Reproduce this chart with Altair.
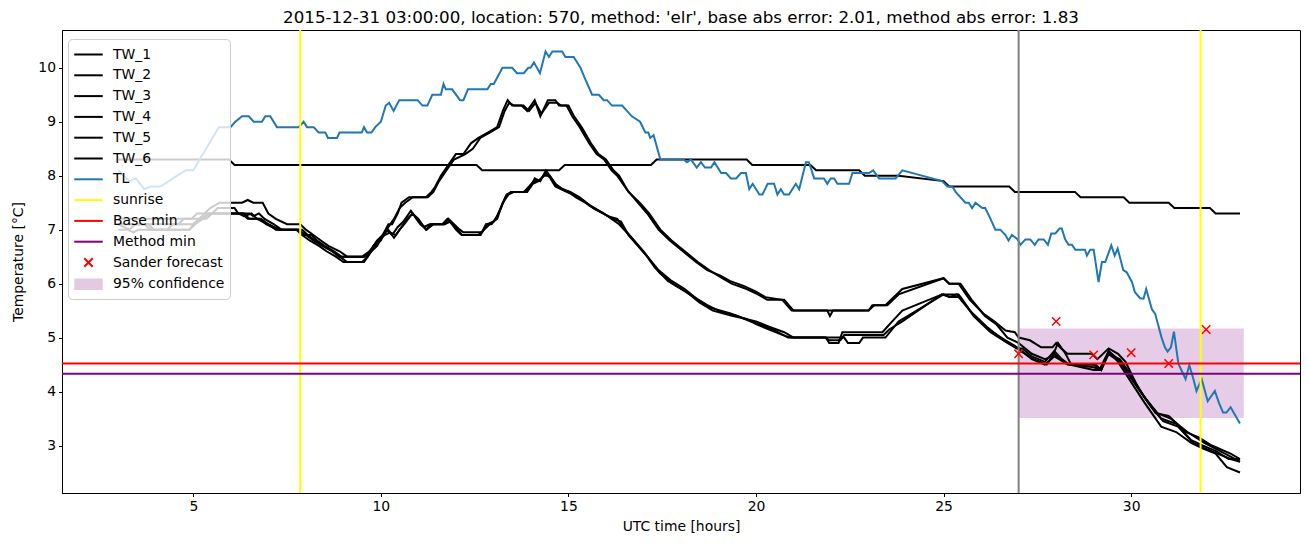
import altair as alt
import pandas as pd

TITLE = "2015-12-31 03:00:00, location: 570, method: 'elr', base abs error: 2.01, method abs error: 1.83"

TW1_X = [3.0, 3.3, 3.45, 4.6, 4.75, 5.15, 5.3, 5.45, 5.7, 6.3, 6.45, 6.6, 6.85, 7.0, 7.2, 7.5, 7.85, 8.0, 8.2, 8.4,
         8.6, 8.9, 9.1, 9.5, 9.7, 9.9, 10.05, 10.2, 10.3, 10.45, 10.55, 10.75, 11.2, 11.35, 11.45, 11.6, 11.8, 12.0,
         12.2, 12.4, 12.6, 12.85, 13.1, 13.25, 13.38, 13.5, 13.75, 13.9, 14.1, 14.25, 14.45, 14.65, 14.75, 14.95,
         15.1, 15.3, 15.55, 15.75, 15.95, 16.15, 16.3, 16.55, 16.85, 17.1, 17.4, 17.7, 18.05, 18.4, 18.7, 19.05,
         19.3, 19.7, 20.0, 20.25, 20.7, 20.95, 21.9, 21.97, 22.05, 23.0, 23.1, 23.45, 23.6, 23.9, 25.0, 25.15, 25.4,
         25.7, 26.05, 26.35, 26.65, 26.9, 27.0, 27.3, 27.6, 27.9, 28.0, 28.1, 28.3, 28.95, 29.1, 29.4, 29.65, 29.85,
         30.2, 30.65, 31.0, 31.45, 31.8, 32.15, 32.65, 32.9]
TW1_Y = [7.1, 7.0, 7.1, 7.1, 7.2, 7.2, 7.3, 7.4, 7.5, 7.5, 7.55, 7.5, 7.5, 7.3, 7.2, 7.1, 7.1, 7.0, 6.9, 6.8,
         6.7, 6.6, 6.5, 6.5, 6.6, 6.8, 6.9, 7.1, 7.1, 7.3, 7.5, 7.6, 7.6, 7.7, 7.8, 8.0, 8.2, 8.4,
         8.4, 8.6, 8.7, 8.8, 8.9, 9.2, 9.4, 9.3, 9.3, 9.2, 9.4, 9.1, 9.4, 9.4, 9.3, 9.3,
         9.1, 8.9, 8.6, 8.4, 8.3, 8.1, 8.0, 7.75, 7.5, 7.3, 7.0, 6.8, 6.6, 6.4, 6.25, 6.15,
         6.05, 5.95, 5.85, 5.75, 5.7, 5.5, 5.5, 5.4, 5.5, 5.5, 5.6, 5.6, 5.7, 5.9, 6.1, 6.0, 6.0,
         5.7, 5.45, 5.3, 5.13, 5.1, 5.0, 4.95, 4.82, 4.82, 4.9, 4.82, 4.7, 4.7, 4.6, 4.8, 4.7, 4.55,
         4.05, 3.6, 3.55, 3.25, 3.15, 3.0, 2.85, 2.75]

TW2_X = [3.0, 3.8, 3.95, 4.9, 5.05, 5.25, 5.45, 6.35, 6.5, 6.8, 7.0, 7.3, 7.8, 8.0, 8.2, 8.45, 8.7, 8.9, 9.1, 9.55,
         9.75, 9.95, 10.15, 10.35, 10.5, 10.65, 10.85, 11.25, 11.4, 11.55, 11.75, 11.95, 12.25, 12.45, 12.65, 12.9,
         13.15, 13.3, 13.42, 13.55, 13.8, 13.95, 14.12, 14.28, 14.48, 14.7, 14.8, 15.0, 15.15, 15.35, 15.6, 15.8,
         16.0, 16.2, 16.35, 16.6, 16.9, 17.15, 17.45, 17.75, 18.1, 18.45, 18.75, 19.1, 19.35, 19.75, 20.05, 20.3,
         20.75, 21.0, 23.0, 23.15, 23.5, 23.8, 25.0, 25.15, 25.45, 25.75, 26.1, 26.4, 26.7, 27.0, 27.35, 27.7, 27.9,
         28.05, 28.25, 28.4, 29.05, 29.2, 29.4, 29.7, 30.0, 30.35, 30.7, 31.05, 31.5, 31.95, 32.5, 32.9]
TW2_Y = [7.1, 7.1, 7.0, 7.0, 7.1, 7.2, 7.3, 7.3, 7.2, 7.2, 7.1, 7.0, 7.0, 6.9, 6.8, 6.7, 6.6, 6.5, 6.4, 6.4,
         6.6, 6.8, 7.0, 7.2, 7.4, 7.5, 7.6, 7.6, 7.7, 7.9, 8.1, 8.3, 8.4, 8.5, 8.7, 8.8,
         8.9, 9.2, 9.35, 9.3, 9.3, 9.2, 9.35, 9.15, 9.35, 9.35, 9.3, 9.3, 9.1, 8.9, 8.6, 8.4,
         8.3, 8.1, 8.0, 7.7, 7.5, 7.3, 7.0, 6.8, 6.6, 6.4, 6.25, 6.1, 6.0, 5.9, 5.8, 5.7,
         5.7, 5.5, 5.5, 5.6, 5.6, 5.8, 6.1, 6.0, 6.0, 5.7, 5.4, 5.25, 5.0, 4.9, 4.7, 4.6, 4.65,
         4.9, 4.7, 4.5, 4.5, 4.4, 4.7, 4.6, 4.3, 3.9, 3.6, 3.5, 3.25, 3.05, 2.85, 2.7]

TW3_X = [3.0, 4.95, 5.1, 5.5, 5.65, 6.1, 6.2, 6.5, 6.6, 6.75, 6.9, 7.15, 7.35, 7.8, 7.95, 8.15, 8.3, 8.5, 8.75, 8.95,
         9.6, 9.75, 9.9, 10.05, 10.2, 10.35, 10.5, 10.62, 10.84, 11.0, 11.2, 11.33, 11.64, 11.77, 11.9, 12.05, 12.17,
         12.66, 12.8, 12.95, 13.06, 13.2, 13.32, 13.46, 13.81, 13.95, 14.08, 14.21, 14.39, 14.52, 14.65, 14.95,
         15.12, 15.39, 15.66, 15.92, 16.19, 16.4, 16.6, 16.85, 17.1, 17.43, 17.78, 18.14, 18.49, 18.85, 19.38,
         19.73, 20.0, 20.35, 20.7, 20.93, 21.86, 21.95, 22.2, 22.3, 23.37, 23.5, 23.63, 23.9, 24.96, 25.4, 25.76,
         26.2, 26.65, 26.9, 27.05, 27.4, 27.75, 27.95, 28.1, 28.3, 29.0, 29.2, 29.4, 29.65, 30.0, 30.4, 30.8, 31.2,
         31.6, 31.9, 32.25, 32.6, 32.9]
TW3_Y = [7.2, 7.2, 7.3, 7.3, 7.4, 7.4, 7.3, 7.3, 7.25, 7.3, 7.2, 7.1, 7.0, 7.0, 6.9, 6.9, 6.8, 6.7, 6.6, 6.5,
         6.5, 6.6, 6.7, 6.9, 7.0, 6.85, 7.0, 7.1, 7.3, 7.2, 7.0, 7.1, 7.1, 7.2, 7.1, 7.0, 6.9,
         6.9, 7.1, 7.1, 7.2, 7.4, 7.6, 7.7, 7.7, 7.8, 7.9, 7.9, 8.05, 7.95, 7.8, 7.7,
         7.65, 7.55, 7.4, 7.3, 7.2, 7.15, 6.9, 6.7, 6.5, 6.2, 6.0, 5.85, 5.65, 5.5, 5.4,
         5.35, 5.25, 5.15, 5.05, 5.0, 5.0, 4.9, 4.9, 5.1, 5.1, 5.2, 5.3, 5.5, 5.8, 5.8, 5.45,
         5.15, 4.95, 4.85, 4.75, 4.6, 4.5, 4.7, 4.6, 4.5, 4.5, 4.4, 4.75, 4.6, 4.25, 3.85, 3.5, 3.4,
         3.1, 3.0, 2.9, 2.75, 2.75]

TW4_X = [3.0, 3.25, 3.4, 3.55, 4.3, 4.45, 5.0, 5.15, 5.35, 5.5, 6.3, 6.45, 6.75, 6.95, 7.25, 7.9, 8.05, 8.25, 8.45,
         8.7, 8.9, 9.55, 9.7, 9.85, 10.0, 10.15, 10.3, 10.45, 10.6, 10.8, 10.95, 11.15, 11.3, 11.7, 11.8, 11.95,
         12.1, 12.2, 12.7, 12.82, 13.0, 13.1, 13.22, 13.35, 13.5, 13.85, 14.0, 14.1, 14.25, 14.4, 14.55, 14.7,
         15.0, 15.2, 15.45, 15.7, 15.95, 16.15, 16.35, 16.55, 16.8, 17.05, 17.4, 17.75, 18.1, 18.45, 18.8, 19.3,
         19.7, 20.0, 20.35, 20.75, 21.0, 22.35, 22.45, 22.75, 22.85, 23.45, 23.8, 25.0, 25.15, 25.35, 25.45, 25.8,
         26.25, 26.7, 26.95, 27.1, 27.35, 27.7, 27.95, 28.15, 28.35, 29.0, 29.2, 29.38, 29.7, 30.1, 30.5, 30.85,
         31.25, 31.65, 31.95, 32.3, 32.65, 32.9]
TW4_Y = [7.0, 7.0, 6.95, 7.0, 7.0, 7.1, 7.1, 7.2, 7.2, 7.3, 7.3, 7.2, 7.2, 7.1, 7.0, 7.0, 6.9, 6.8, 6.7,
         6.6, 6.5, 6.5, 6.6, 6.7, 6.8, 7.0, 6.9, 7.05, 7.15, 7.35, 7.2, 7.05, 7.1, 7.1, 7.2, 7.1,
         7.0, 6.95, 6.95, 7.1, 7.15, 7.25, 7.45, 7.65, 7.7, 7.7, 7.8, 7.95, 7.9, 8.1, 7.95, 7.8,
         7.7, 7.6, 7.5, 7.4, 7.3, 7.2, 7.1, 6.95, 6.75, 6.55, 6.25, 6.05, 5.9, 5.7, 5.55, 5.45,
         5.35, 5.3, 5.2, 5.1, 5.0, 5.0, 4.9, 4.9, 5.0, 5.0, 5.3, 5.8, 5.75, 5.8, 5.75, 5.4,
         5.1, 4.9, 4.8, 4.8, 4.65, 4.55, 4.75, 4.6, 4.5, 4.45, 4.4, 4.7, 4.55, 4.15, 3.75, 3.45,
         3.35, 3.05, 2.95, 2.85, 2.75, 2.7]

TW5_X = [3.0, 3.7, 3.85, 4.9, 5.0, 5.2, 5.4, 6.2, 6.35, 6.55, 6.7, 7.0, 7.2, 7.75, 7.9, 8.1, 8.35, 8.55, 8.8, 9.0,
         9.5, 9.65, 9.8, 9.95, 10.1, 10.25, 10.4, 10.55, 10.7, 10.85, 11.05, 11.22, 11.4, 11.7, 11.85, 12.0, 12.15,
         12.6, 12.75, 12.9, 13.1, 13.25, 13.4, 13.55, 13.9, 14.05, 14.2, 14.35, 14.5, 14.65, 14.85, 15.05, 15.3,
         15.55, 15.8, 16.05, 16.3, 16.5, 16.75, 17.0, 17.3, 17.65, 18.0, 18.35, 18.7, 19.0, 19.5, 19.85, 20.1,
         20.45, 20.85, 21.85, 21.95, 22.25, 22.35, 23.4, 23.55, 23.9, 24.95, 25.2, 25.4, 25.7, 26.15, 26.6, 26.85,
         27.0, 27.35, 27.7, 27.95, 28.2, 28.35, 29.0, 29.15, 29.4, 29.65, 30.35, 30.8, 31.2, 31.6, 31.9, 32.25,
         32.55, 32.9]
TW5_Y = [7.1, 7.1, 7.0, 7.0, 7.1, 7.2, 7.3, 7.3, 7.25, 7.3, 7.2, 7.1, 7.0, 7.0, 6.9, 6.8, 6.7, 6.6, 6.5, 6.4,
         6.4, 6.5, 6.7, 6.8, 6.9, 6.95, 6.9, 7.05, 7.2, 7.3, 7.1, 7.0, 7.1, 7.1, 7.15, 7.0, 6.9,
         6.9, 7.0, 7.1, 7.2, 7.5, 7.65, 7.7, 7.7, 7.85, 7.9, 8.0, 8.0, 7.85, 7.75, 7.7, 7.6,
         7.45, 7.35, 7.25, 7.2, 7.0, 6.8, 6.6, 6.3, 6.05, 5.9, 5.75, 5.6, 5.5, 5.4, 5.3, 5.25,
         5.15, 5.0, 5.0, 4.95, 4.95, 5.05, 5.05, 5.15, 5.3, 5.8, 5.75, 5.75, 5.5, 5.2, 4.95, 4.85,
         4.8, 4.6, 4.5, 4.65, 4.55, 4.5, 4.4, 4.4, 4.75, 4.55, 3.8, 3.35, 3.25, 3.05, 2.95, 2.85,
         2.6, 2.5]

TW6_X = [3.0, 5.95, 6.1, 12.55, 12.7, 14.75, 14.9, 17.2, 17.35, 19.75, 19.9, 21.45, 21.6, 22.75, 22.9, 23.8,
         25.0, 25.15, 26.75, 26.9, 28.5, 28.65, 29.8, 29.95, 31.0, 31.15, 32.1, 32.25, 32.9]
TW6_Y = [8.3, 8.3, 8.2, 8.2, 8.1, 8.1, 8.2, 8.2, 8.3, 8.3, 8.2, 8.2, 8.1, 8.1, 8.0, 8.0,
         7.9, 7.8, 7.8, 7.7, 7.7, 7.6, 7.6, 7.5, 7.5, 7.4, 7.4, 7.3, 7.3]

TL_X = [3.0, 3.29, 3.47, 3.69, 3.86, 4.13, 4.35, 4.57, 4.8, 5.0, 5.68, 5.99, 6.12, 6.3, 6.48, 6.61, 6.83, 6.92,
        7.05, 7.23, 7.81, 7.94, 8.03, 8.21, 8.34, 8.52, 8.59, 8.83, 8.9, 9.49, 9.55, 9.63, 9.75, 9.85, 10.0, 10.13,
        10.22, 10.34, 10.49, 10.98, 11.11, 11.24, 11.37, 11.6, 11.67, 11.73, 11.9, 12.11, 12.2, 12.32, 12.84,
        12.93, 13.01, 13.24, 13.5, 13.63, 13.81, 13.93, 13.99, 14.08, 14.24, 14.39, 14.48, 14.57, 14.83, 14.92,
        15.14, 15.32, 15.41, 15.63, 15.81, 15.94, 16.03, 16.16, 16.43, 16.56, 16.69, 16.91, 17.05, 17.13, 17.18,
        17.27, 17.45, 18.07, 18.16, 18.26, 18.42, 18.53, 18.64, 18.8, 18.89, 19.07, 19.2, 19.33, 19.47, 19.6,
        19.73, 19.82, 19.91, 20.09, 20.17, 20.31, 20.48, 20.57, 20.66, 20.75, 20.88, 21.06, 21.15, 21.33, 21.41,
        21.55, 21.81, 21.9, 21.99, 22.08, 22.17, 22.48, 22.57, 23.01, 23.12, 23.28, 23.72, 23.9, 24.96, 25.1,
        25.23, 25.32, 25.58, 25.67, 25.76, 25.85, 26.03, 26.11, 26.25, 26.38, 26.51, 26.65, 26.73, 26.82, 26.96,
        27.05, 27.18, 27.31, 27.43, 27.53, 27.67, 27.78, 27.87, 27.98, 28.09, 28.15, 28.24, 28.33, 28.42, 28.51,
        28.77, 28.82, 28.91, 29.0, 29.13, 29.22, 29.31, 29.47, 29.56, 29.64, 29.79, 29.88, 30.02, 30.1, 30.24,
        30.33, 30.4, 30.55, 30.64, 30.81, 30.9, 30.97, 31.06, 31.14, 31.26, 31.39, 31.45, 31.55, 31.66, 31.74,
        31.88, 32.04, 32.23, 32.34, 32.45, 32.54, 32.65, 32.9]
TL_Y = [8.1, 7.9, 7.95, 7.75, 7.8, 7.8, 7.9, 8.0, 8.1, 8.1, 8.9, 8.9, 9.0, 9.1, 9.1, 9.0, 9.0, 9.1,
        9.1, 8.9, 8.9, 9.0, 8.9, 8.9, 8.8, 8.8, 8.7, 8.7, 8.8, 8.8, 8.9, 8.8, 8.8, 8.9, 9.0, 9.3,
        9.35, 9.2, 9.4, 9.4, 9.3, 9.3, 9.5, 9.5, 9.7, 9.6, 9.6, 9.4, 9.4, 9.6, 9.6,
        9.7, 9.7, 10.0, 10.0, 9.9, 9.9, 10.0, 10.0, 10.1, 9.9, 10.3, 10.2, 10.3, 10.3, 10.2,
        10.2, 10.0, 9.85, 9.5, 9.5, 9.4, 9.4, 9.3, 9.3, 9.2, 9.1, 9.0, 8.8, 8.8, 8.7,
        8.75, 8.3, 8.3, 8.25, 8.3, 8.15, 8.25, 8.15, 8.15, 8.25, 8.05, 8.05, 7.95, 7.95, 8.05,
        8.05, 7.75, 7.85, 7.65, 7.65, 7.85, 7.85, 7.65, 7.75, 7.65, 7.65, 7.85, 7.75, 8.25, 8.25,
        7.95, 7.95, 7.85, 7.95, 7.95, 7.85, 7.85, 8.05, 8.05, 8.1, 7.95, 7.95, 8.1, 7.9, 7.8,
        7.8, 7.7, 7.5, 7.5, 7.4, 7.5, 7.4, 7.4, 7.2, 7.0, 7.0, 6.9, 6.8, 6.9, 6.83,
        6.72, 6.82, 6.82, 6.72, 6.82, 6.82, 6.72, 6.93, 6.93, 7.02, 7.02, 6.82, 6.72, 6.72, 6.63,
        6.63, 6.52, 6.63, 6.63, 6.03, 6.4, 6.4, 6.71, 6.52, 6.65, 6.25, 6.21, 6.03, 5.84, 5.73,
        5.72, 5.9, 5.53, 5.44, 5.0, 4.82, 4.74, 4.82, 5.11, 4.51, 4.32, 4.23, 4.49, 4.23, 4.01,
        4.23, 3.82, 4.01, 3.79, 3.61, 3.61, 3.71, 3.41]

SUNRISE_X = [7.85, 31.85]
NOW_X = [27.0]
BASE_MIN = [4.52]
METHOD_MIN = [4.33]
SANDER_X = [27.0, 28.0, 29.0, 30.0, 31.0, 32.0]
SANDER_Y = [4.70, 5.30, 4.68, 4.72, 4.52, 5.15]
CONF_X = [27.0, 33.0]
CONF_Y = [3.51, 5.17]

X_DOMAIN = [1.5, 34.5]
Y_DOMAIN = [2.12, 10.7]
X_TICKS = [5, 10, 15, 20, 25, 30]
Y_TICKS = [3, 4, 5, 6, 7, 8, 9, 10]

LEGEND_NAMES = ["TW_1", "TW_2", "TW_3", "TW_4", "TW_5", "TW_6", "TL", "sunrise", "Base min",
                "Method min", "Sander forecast", "95% confidence"]
LEGEND_COLORS = ["black", "black", "black", "black", "black", "black", "#1f77b4", "yellow", "red",
                 "purple", "red", "#e2cbe2"]

LINE_SYM = "M-1.5,0L1.5,0"
X_SYM = "M-0.44,-0.44L0.44,0.44M-0.44,0.44L0.44,-0.44"
PATCH_SYM = "".join("M-1.5,%.2fL1.5,%.2f" % (v / 10, v / 10) for v in range(-5, 6))
LEGEND_SHAPES = [LINE_SYM] * 10 + [X_SYM, PATCH_SYM]

FONT = "DejaVu Sans"

tw_frames = []
for name, xs, ys in [("TW_1", TW1_X, TW1_Y), ("TW_2", TW2_X, TW2_Y), ("TW_3", TW3_X, TW3_Y),
                     ("TW_4", TW4_X, TW4_Y), ("TW_5", TW5_X, TW5_Y), ("TW_6", TW6_X, TW6_Y)]:
    tw_frames.append(pd.DataFrame({"t": xs, "v": ys, "series": name}))
tw_df = pd.concat(tw_frames, ignore_index=True)
tl_df = pd.DataFrame({"t": TL_X, "v": TL_Y})
sun_df = pd.DataFrame({"t": SUNRISE_X})
now_df = pd.DataFrame({"t": NOW_X})
base_df = pd.DataFrame({"v": BASE_MIN})
meth_df = pd.DataFrame({"v": METHOD_MIN})
sander_df = pd.DataFrame({"t": SANDER_X, "v": SANDER_Y, "series": "Sander forecast"})
conf_df = pd.DataFrame({"t0": [CONF_X[0]], "t1": [CONF_X[1]], "v0": [CONF_Y[0]], "v1": [CONF_Y[1]]})

xscale = alt.Scale(domain=X_DOMAIN, nice=False, zero=False)
yscale = alt.Scale(domain=Y_DOMAIN, nice=False, zero=False)
xaxis = alt.Axis(values=X_TICKS, format="d", title="UTC time [hours]", titlePadding=6)
yaxis = alt.Axis(values=Y_TICKS, format="d", title="Temperature [°C]", titlePadding=12)

X = alt.X("t:Q", scale=xscale, axis=xaxis)
Y = alt.Y("v:Q", scale=yscale, axis=yaxis)

band = alt.Chart(conf_df).mark_rect(color="purple", opacity=0.2).encode(
    x=alt.X("t0:Q", scale=xscale, axis=xaxis), x2="t1:Q",
    y=alt.Y("v0:Q", scale=yscale, axis=yaxis), y2="v1:Q")

tw = alt.Chart(tw_df).mark_line(color="black", strokeWidth=2).encode(x=X, y=Y, detail="series:N")
tl = alt.Chart(tl_df).mark_line(color="#1f77b4", strokeWidth=2).encode(x=X, y=Y)
sun = alt.Chart(sun_df).mark_rule(color="yellow", strokeWidth=2).encode(x=X)
now = alt.Chart(now_df).mark_rule(color="gray", strokeWidth=2).encode(x=X)
base = alt.Chart(base_df).mark_rule(color="red", strokeWidth=2).encode(y=Y)
meth = alt.Chart(meth_df).mark_rule(color="purple", strokeWidth=2).encode(y=Y)

legend = alt.Legend(
    title=None, orient="none", legendX=6, legendY=9,
    fillColor="rgba(255,255,255,0.8)", strokeColor="#cccccc", cornerRadius=4, padding=5,
    labelFont=FONT, labelFontSize=13.9, labelColor="black", labelOffset=14,
    symbolSize=361, symbolStrokeWidth=2, symbolOffset=5, rowPadding=2.8, symbolLimit=20,
)

sander = alt.Chart(sander_df).mark_point(filled=False, strokeWidth=1.5, size=361, opacity=1).encode(
    x=X, y=Y,
    color=alt.Color("series:N", scale=alt.Scale(domain=LEGEND_NAMES, range=LEGEND_COLORS), legend=legend),
    shape=alt.Shape("series:N", scale=alt.Scale(domain=LEGEND_NAMES, range=LEGEND_SHAPES), legend=legend),
)

chart = alt.layer(band, tw, tl, sun, now, base, meth, sander).properties(
    width=1238, height=463,
    title=alt.TitleParams(text=TITLE, font=FONT, fontSize=16.7, fontWeight="normal", color="black", offset=2),
    autosize=alt.AutoSizeParams(type="none"),
    padding={"left": 62, "top": 30, "right": 10, "bottom": 54},
).configure_axis(
    labelFont=FONT, labelFontSize=13.9, labelColor="black", titleFont=FONT, titleFontSize=13.9,
    titleFontWeight="normal", titleColor="black", domainColor="black", tickColor="black",
    tickSize=3.5, labelPadding=3, grid=False,
).configure_view(stroke="black", strokeWidth=1)

chart.save("out.html", embed_options={"renderer": "svg", "actions": False})
